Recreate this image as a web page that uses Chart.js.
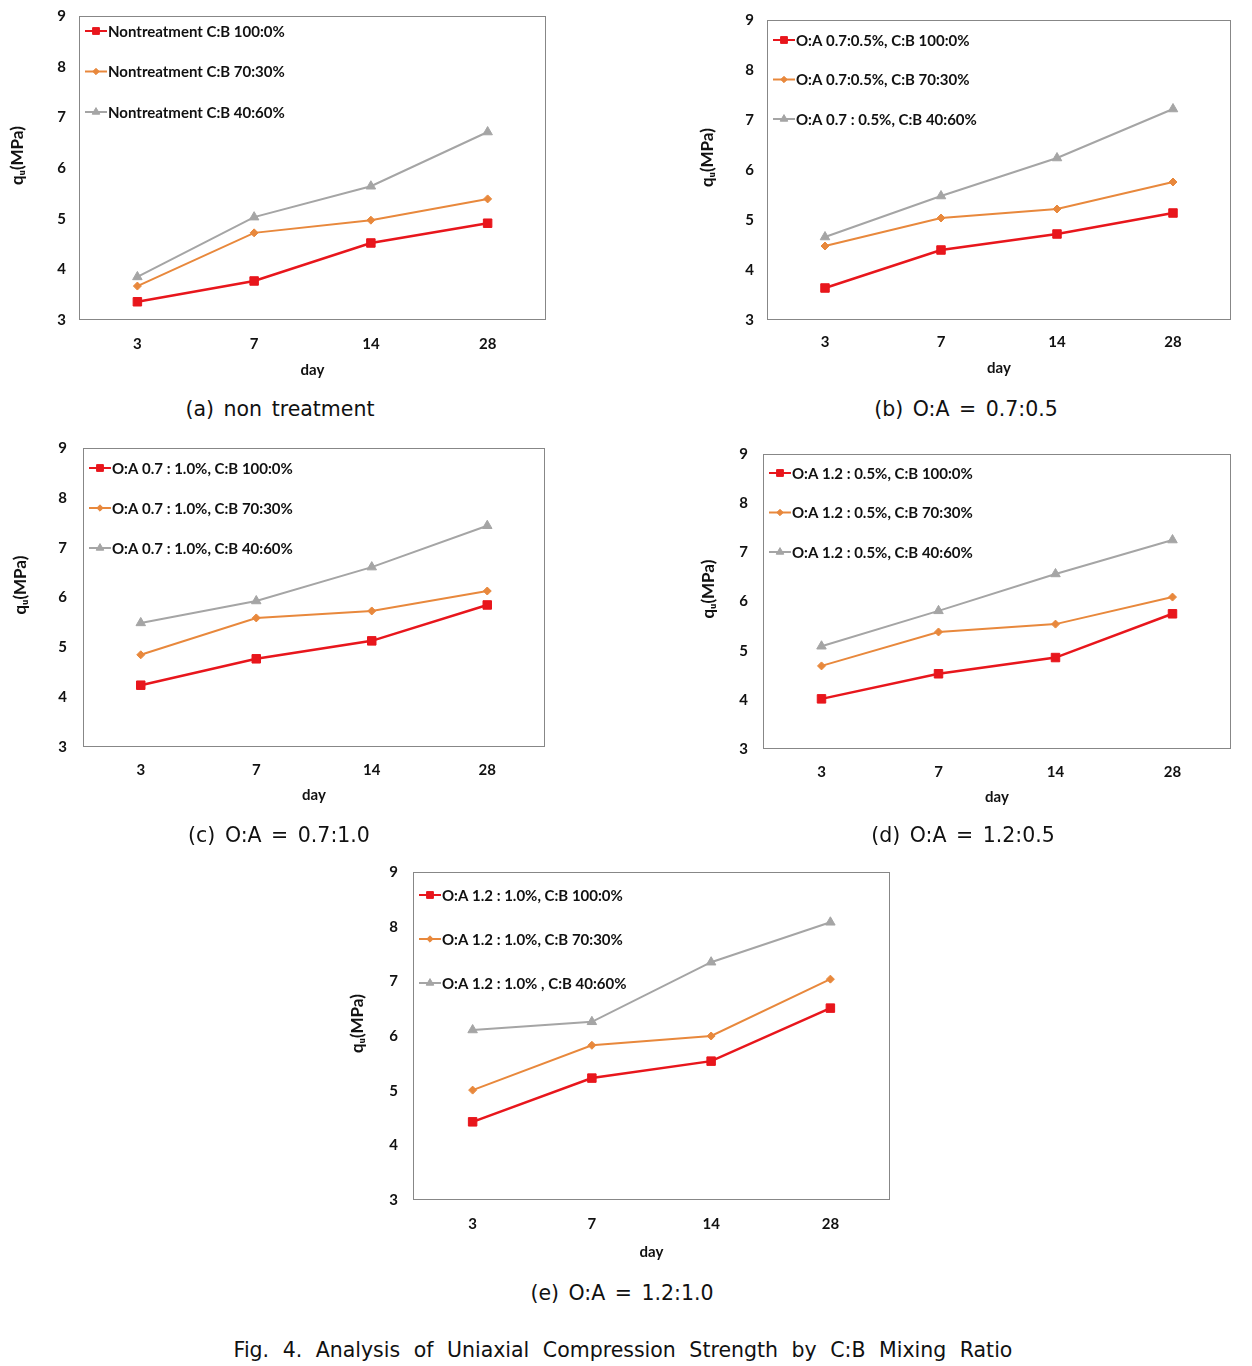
<!DOCTYPE html>
<html>
<head>
<meta charset="utf-8">
<script src="https://cdn.jsdelivr.net/npm/chart.js@4.4.1/dist/chart.umd.min.js"></script>
<style>
  body { margin: 0; background: #fff; width: 1252px; height: 1366px; position: relative; overflow: hidden; }
  canvas { position: absolute; }
  .cap { position: absolute; transform: translate(-50%, -50%); font-family: "DejaVu Sans", sans-serif; font-size: 20.5px; color: #111; white-space: nowrap; word-spacing: 3px; }
  .fig { font-size: 20.5px; word-spacing: 7px; }
</style>
</head>
<body>
<canvas id="ca"></canvas>
<canvas id="cb"></canvas>
<canvas id="cc"></canvas>
<canvas id="cd"></canvas>
<canvas id="ce"></canvas>

<div class="cap" style="left:280px; top:409px;">(a) non treatment</div>
<div class="cap" style="left:966px; top:409px;">(b) O:A = 0.7:0.5</div>
<div class="cap" style="left:279px; top:835px;">(c) O:A = 0.7:1.0</div>
<div class="cap" style="left:963px; top:835px;">(d) O:A = 1.2:0.5</div>
<div class="cap" style="left:622px; top:1293px;">(e) O:A = 1.2:1.0</div>
<div class="cap fig" style="left:623px; top:1350px;">Fig. 4. Analysis of Uniaxial Compression Strength by C:B Mixing Ratio</div>

<script>
// x categories (curing days) and y range
const days = ['3', '7', '14', '28'];
const yMin = 3;
const yMax = 9;

// (a) non treatment
const labelsA = ['Nontreatment C:B 100:0%', 'Nontreatment C:B 70:30%', 'Nontreatment C:B 40:60%'];
const a100 = [3.36, 3.77, 4.52, 4.91];
const a70 = [3.67, 4.72, 4.97, 5.39];
const a40 = [3.85, 5.03, 5.64, 6.71];

// (b) O:A = 0.7:0.5
const labelsB = ['O:A 0.7:0.5%, C:B 100:0%', 'O:A 0.7:0.5%, C:B 70:30%', 'O:A 0.7 : 0.5%, C:B 40:60%'];
const b100 = [3.64, 4.40, 4.72, 5.14];
const b70 = [4.48, 5.04, 5.22, 5.76];
const b40 = [4.66, 5.48, 6.24, 7.22];

// (c) O:A = 0.7:1.0
const labelsC = ['O:A 0.7 : 1.0%, C:B 100:0%', 'O:A 0.7 : 1.0%, C:B 70:30%', 'O:A 0.7 : 1.0%, C:B 40:60%'];
const c100 = [4.24, 4.77, 5.13, 5.85];
const c70 = [4.85, 5.59, 5.73, 6.13];
const c40 = [5.49, 5.93, 6.61, 7.44];

// (d) O:A = 1.2:0.5
const labelsD = ['O:A 1.2 : 0.5%, C:B 100:0%', 'O:A 1.2 : 0.5%, C:B 70:30%', 'O:A 1.2 : 0.5%, C:B 40:60%'];
const d100 = [4.02, 4.53, 4.86, 5.75];
const d70 = [4.69, 5.38, 5.54, 6.09];
const d40 = [5.09, 5.81, 6.56, 7.25];

// (e) O:A = 1.2:1.0
const labelsE = ['O:A 1.2 : 1.0%, C:B 100:0%', 'O:A 1.2 : 1.0%, C:B 70:30%', 'O:A 1.2 : 1.0% , C:B 40:60%'];
const e100 = [4.43, 5.23, 5.54, 6.51];
const e70 = [5.01, 5.83, 6.00, 7.04];
const e40 = [6.11, 6.26, 7.35, 8.08];

const RED = '#e8161c';
const ORANGE = '#e8883c';
const GRAY = '#a5a5a5';
const FONT = 'Lato, "Liberation Sans", sans-serif';

// box around the plot area, like the excel frame
const framePlugin = {
  id: 'frame',
  beforeDatasetsDraw(chart) {
    const a = chart.chartArea;
    const ctx = chart.ctx;
    ctx.save();
    ctx.strokeStyle = '#878787';
    ctx.lineWidth = 1;
    ctx.strokeRect(a.left + 0.5, a.top + 0.5, a.right - a.left - 1, a.bottom - a.top - 1);
    ctx.restore();
  }
};

// legend drawn inside the plot area, line with marker in the middle
const innerLegend = {
  id: 'innerLegend',
  afterDraw(chart, args, opts) {
    const a = chart.chartArea;
    const ctx = chart.ctx;
    ctx.save();
    chart.data.datasets.forEach((ds, i) => {
      const y = a.top + opts.first + i * opts.gap;
      const x0 = a.left + 6;
      ctx.strokeStyle = ds.borderColor;
      ctx.lineWidth = 2;
      ctx.beginPath();
      ctx.moveTo(x0, y);
      ctx.lineTo(x0 + 22, y);
      ctx.stroke();
      ctx.fillStyle = ds.pointBackgroundColor;
      ctx.strokeStyle = ds.pointBorderColor;
      ctx.lineWidth = 1;
      Chart.helpers.drawPoint(ctx, {pointStyle: ds.pointStyle, radius: ds.pointRadius * 0.8, borderWidth: 1}, x0 + 11, y);
      ctx.fillStyle = '#111';
      ctx.font = 'bold 15px ' + FONT;
      ctx.textBaseline = 'middle';
      ctx.fillText(ds.label, x0 + 23, y + 1);
    });
    ctx.restore();
  }
};

function makeChart(id, box, labels, s100, s70, s40) {
  // box: plot area in page pixels, plus title / tick positions
  const yTickPad = box.l - box.yTickR;
  // chart.js adds the tick padding to the half label height above the axis
  const padTop = yTickPad + 11;
  const padRight = 14, yAxisW = 80;
  const canvasLeft = box.l - yAxisW;
  const canvasTop = box.t - padTop;
  const xScaleBottom = box.dayY + 9;
  const cv = document.getElementById(id);
  const w = box.r + padRight - canvasLeft;
  const h = xScaleBottom - canvasTop;
  cv.style.left = canvasLeft + 'px';
  cv.style.top = canvasTop + 'px';
  cv.style.width = w + 'px';
  cv.style.height = h + 'px';
  cv.width = w;
  cv.height = h;

  new Chart(cv.getContext('2d'), {
    type: 'line',
    data: {
      labels: days,
      datasets: [
        { label: labels[0], data: s100, borderColor: RED, backgroundColor: RED, pointBackgroundColor: RED, pointBorderColor: RED,
          borderWidth: 2.5, pointStyle: 'rect', pointRadius: 6, pointBorderWidth: 1 },
        { label: labels[1], data: s70, borderColor: ORANGE, backgroundColor: ORANGE, pointBackgroundColor: ORANGE, pointBorderColor: ORANGE,
          borderWidth: 2, pointStyle: 'rectRot', pointRadius: 4, pointBorderWidth: 1 },
        { label: labels[2], data: s40, borderColor: GRAY, backgroundColor: GRAY, pointBackgroundColor: GRAY, pointBorderColor: GRAY,
          borderWidth: 2, pointStyle: 'triangle', pointRadius: 5.5, pointBorderWidth: 1 }
      ]
    },
    options: {
      responsive: false,
      animation: false,
      layout: { padding: { top: padTop, right: padRight, left: 0, bottom: 0 } },
      plugins: {
        legend: { display: false },
        tooltip: { enabled: false },
        innerLegend: { first: box.lgFirst, gap: box.lgGap }
      },
      scales: {
        x: {
          offset: true,
          grid: { display: false, drawTicks: false, tickLength: 0 },
          border: { display: false },
          ticks: { color: '#111', font: { family: FONT, size: 15, weight: 'bold' }, padding: box.xTickY - box.b - 9, maxRotation: 0 },
          title: { display: true, text: 'day', color: '#111', font: { family: FONT, size: 15, weight: 'bold' }, padding: 0 },
          afterFit(scale) { scale.height = xScaleBottom - box.b; }
        },
        y: {
          min: yMin, max: yMax,
          grid: { display: false, drawTicks: false, tickLength: 0 },
          border: { display: false },
          ticks: { stepSize: 1, color: '#111', font: { family: FONT, size: 15, weight: 'bold' }, padding: yTickPad },
          // leading spaces push the rotated label a little above the centre, as in the source figure
          title: { display: true, text: '      qᵤ(MPa)', color: '#111', font: { family: FONT, size: 17, weight: 'bold' },
                   padding: { top: box.yTitleX - canvasLeft - 10.2, bottom: 0 } },
          afterFit(scale) { scale.width = yAxisW; }
        }
      }
    },
    plugins: [framePlugin, innerLegend]
  });
}

makeChart('ca', { l: 79, t: 16, r: 546, b: 320, yTitleX: 18, yTickR: 66, xTickY: 344, dayY: 370, lgFirst: 15, lgGap: 40.5 }, labelsA, a100, a70, a40);
makeChart('cb', { l: 767, t: 20, r: 1231, b: 320, yTitleX: 708, yTickR: 754, xTickY: 342, dayY: 368, lgFirst: 20, lgGap: 39.5 }, labelsB, b100, b70, b40);
makeChart('cc', { l: 83, t: 448, r: 545, b: 747, yTitleX: 21, yTickR: 67, xTickY: 770, dayY: 795, lgFirst: 20, lgGap: 40 }, labelsC, c100, c70, c40);
makeChart('cd', { l: 763, t: 454, r: 1231, b: 749, yTitleX: 709, yTickR: 748, xTickY: 772, dayY: 797, lgFirst: 19, lgGap: 39.5 }, labelsD, d100, d70, d40);
makeChart('ce', { l: 413, t: 872, r: 890, b: 1200, yTitleX: 358, yTickR: 398, xTickY: 1224, dayY: 1252, lgFirst: 23, lgGap: 44 }, labelsE, e100, e70, e40);
</script>
</body>
</html>
